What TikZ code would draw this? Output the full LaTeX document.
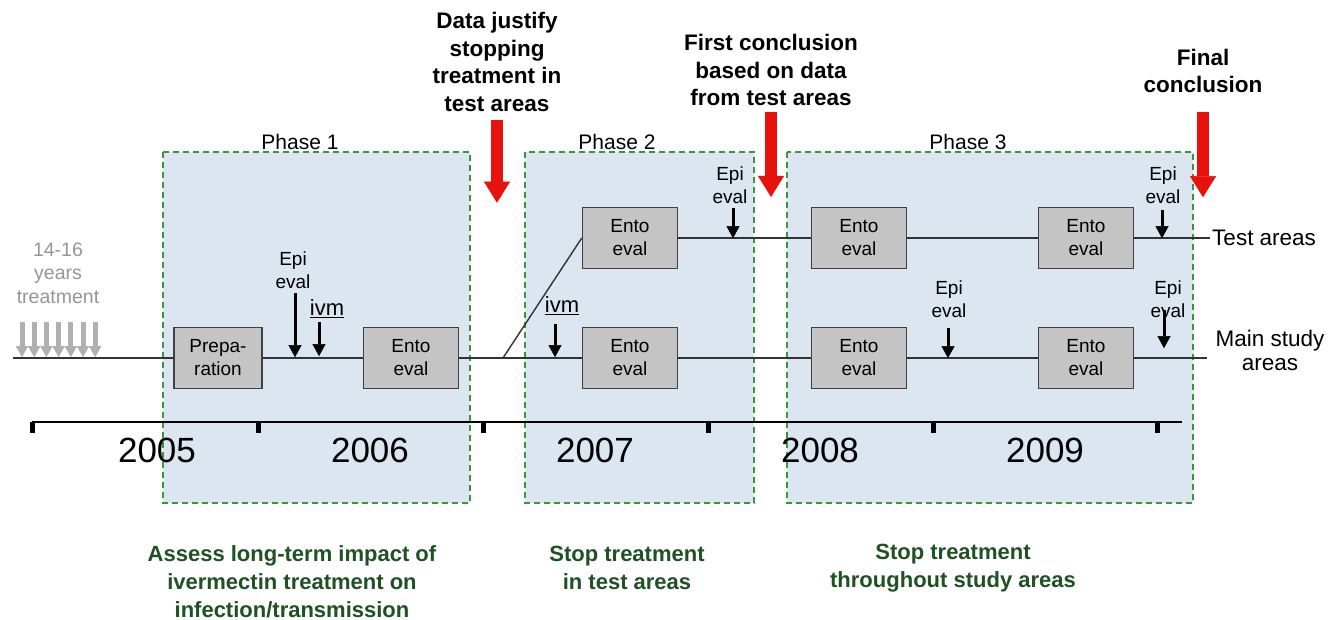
\documentclass[tikz,border=0pt]{standalone}
\usepackage{fontspec}
\setmainfont{Liberation Sans}
\usepackage{xcolor}
\usepackage{tikz}
\usetikzlibrary{arrows.meta}
\definecolor{phasefill}{HTML}{DCE6F0}
\definecolor{phaseline}{HTML}{3C943C}
\definecolor{boxgray}{HTML}{C4C4C4}
\definecolor{aimgreen}{HTML}{1F5222}
\definecolor{alertred}{HTML}{E8120C}
\definecolor{pastgray}{HTML}{B0B0B0}

\tikzset{
  phasebox/.style={draw=phaseline, fill=phasefill, line width=1.3pt, dash pattern=on 6pt off 4pt},
  phaselabel/.style={anchor=base, inner sep=0pt, font=\fontsize{21}{25}\selectfont},
  evalbox/.style={draw=black!75, fill=boxgray, line width=1.5pt, minimum width=95pt,
    minimum height=61pt, inner sep=0pt, align=center, font=\fontsize{19}{23}\selectfont},
  evallabel/.style={align=center, inner sep=1pt, font=\fontsize{19}{23}\selectfont},
  ivmlabel/.style={inner sep=1pt, font=\fontsize{22}{26}\selectfont},
  arealabel/.style={align=center, inner sep=2pt, font=\fontsize{22.5}{24}\selectfont},
  pastlabel/.style={align=center, text=pastgray!85!black, font=\fontsize{19.5}{23.5}\selectfont},
  decision/.style={align=center, inner sep=3pt, font=\bfseries\fontsize{22.5}{27.5}\selectfont},
  aimlabel/.style={align=center, text=aimgreen, font=\bfseries\fontsize{22}{28}\selectfont},
  yearlabel/.style={anchor=base, inner sep=0pt, font=\fontsize{35}{40}\selectfont},
  track/.style={line width=1.4pt, black!80},
  axisline/.style={line width=2.5pt},
  yeartick/.style={line width=5pt},
  epiarrow/.style={line width=3pt, -{Triangle[width=13pt, length=12pt, line width=0.4pt]}},
  pastarrow/.style={line width=5pt, pastgray, -{Triangle[width=12.5pt, length=11pt, line width=0.4pt]}},
  redarrow/.style={line width=12pt, alertred, -{Triangle[width=26pt, length=21pt, line width=0.4pt]}}
}

\begin{document}
\begin{tikzpicture}[x=1pt, y=-1pt]
    \useasboundingbox[fill=white] (0,0) rectangle (1340,620);
    % --- phases ---
    \draw[phasebox] (163,152) rectangle (470,503);
    \draw[phasebox] (525,152) rectangle (754,503);
    \draw[phasebox] (787,152) rectangle (1193,503);
    \node[phaselabel] (ph1) at (300,150) {Phase 1};
    \node[phaselabel] (ph2) at (617,150) {Phase 2};
    \node[phaselabel] (ph3) at (968,150) {Phase 3};

    % --- years ---
    \draw[axisline] (32,422) -- (1182,422);
    \foreach \x in {32,258,483,708,933,1157}
        \draw[yeartick] (\x,422) -- ++(0,11);
    \foreach \x/\yr in {157/2005,370/2006,595/2007,820/2008,1045/2009}
        \node[yearlabel] (y\yr) at (\x,462) {\yr};

    % --- tracks ---
    \coordinate (start) at (13,358);
    \coordinate (split) at (503,358);
    \coordinate (endT) at (1210,238);
    \coordinate (endM) at (1207,358);
    \node[evalbox, minimum width=88pt] (prep) at (218,358) {Prepa-\\ration};
    \node[evalbox] (ento1) at (411,358) {Ento\\eval};
    \node[evalbox] (ento2t) at (630,238) {Ento\\eval};
    \node[evalbox] (ento2m) at (630,358) {Ento\\eval};
    \node[evalbox] (ento3t) at (859,238) {Ento\\eval};
    \node[evalbox] (ento3m) at (859,358) {Ento\\eval};
    \node[evalbox] (ento4t) at (1086,238) {Ento\\eval};
    \node[evalbox] (ento4m) at (1086,358) {Ento\\eval};
    \draw[track] (start) -- (prep);
    \draw[track] (prep) -- (ento1);
    \draw[track] (ento1) -- (split) -- (ento2m);
    \draw[track] (split) -- (ento2t.west);
    \draw[track] (ento2t) -- (ento3t);
    \draw[track] (ento3t) -- (ento4t);
    \draw[track] (ento4t) -- (endT);
    \draw[track] (ento2m) -- (ento3m);
    \draw[track] (ento3m) -- (ento4m);
    \draw[track] (ento4m) -- (endM);
    \node[arealabel, anchor=west] (testlbl) at (endT) {Test areas};
    \node[arealabel] (mainlbl) at (1270,350) {Main study\\areas};

    % --- past treatment ---
    \node[pastlabel] (past) at (58,273) {14-16\\years\\treatment};
    \foreach \i in {0,...,6}
        \draw[pastarrow] (22+12.2*\i,322) -- ++(0,35);

    % --- evaluations ---
    \node[evallabel] (epi1) at (293,270) {Epi\\eval};
    \draw[epiarrow] (epi1.south) ++(2,3.5) -- ++(0,64);
    \node[ivmlabel] (ivm1) at (327,309) {\underline{ivm}};
    \draw[epiarrow] (ivm1.south) ++(-8,3) -- ++(0,34);
    \node[ivmlabel] (ivm2) at (562,306) {\underline{ivm}};
    \draw[epiarrow] (ivm2.south) ++(-7,8) -- ++(0,33);
    \node[evallabel] (epi2) at (730,185) {Epi\\eval};
    \draw[epiarrow] (epi2.south) ++(3,3.5) -- ++(0,30);
    \node[evallabel] (epi3) at (949,299) {Epi\\eval};
    \draw[epiarrow] (epi3.south) ++(-1,9.5) -- ++(0,30);
    \node[evallabel] (epi4) at (1163,185) {Epi\\eval};
    \draw[epiarrow] (epi4.south) ++(-1,5.5) -- ++(0,28);
    \node[evallabel] (epi5) at (1168,299) {Epi\\eval};
    \draw[epiarrow] (epi5.south) ++(-4,-8.5) -- ++(0,38);

    % --- decisions ---
    \node[decision] (stopnote) at (497,62) {Data justify\\stopping\\treatment in\\test areas};
    \draw[redarrow] (stopnote.south) ++(0,5) -- ++(0,83);
    \node[decision] (firstnote) at (771,70) {First conclusion\\based on data\\from test areas};
    \draw[redarrow] (firstnote.south) ++(0,3) -- ++(0,85);
    \node[decision] (finalnote) at (1203,71) {Final\\conclusion};
    \draw[redarrow] (finalnote.south) ++(0,16) -- ++(0,85);

    % --- aims ---
    \node[aimlabel] (aim1) at (292,582) {Assess long-term impact of\\ivermectin treatment on\\infection/transmission};
    \node[aimlabel] (aim2) at (627,568) {Stop treatment\\in test areas};
    \node[aimlabel] (aim3) at (953,568) {Stop treatment\\throughout study areas};
\end{tikzpicture}
\end{document}
